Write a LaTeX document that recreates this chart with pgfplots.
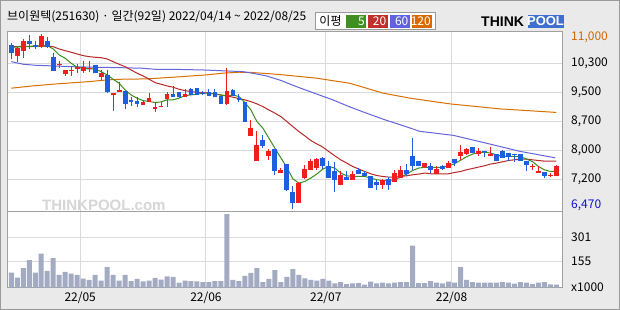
\documentclass[border=0pt]{standalone}
\usepackage{pgfplots}
\pgfplotsset{compat=1.18}
\usepackage{pgfplotstable}
\usepackage{fontspec}
\setmainfont{Noto Sans CJK KR}
\newfontfamily\logofont{Liberation Sans}

\definecolor{bgc}{HTML}{EAEAEA}
\definecolor{outerc}{HTML}{9A9A9A}
\definecolor{panelc}{HTML}{A0A0A0}
\definecolor{gridc}{HTML}{DADADA}
\definecolor{upc}{HTML}{F01E1E}
\definecolor{downc}{HTML}{1E5FE0}
\definecolor{maA}{HTML}{3C8C1C}
\definecolor{maB}{HTML}{B82828}
\definecolor{maC}{HTML}{6464DC}
\definecolor{maD}{HTML}{D87000}
\definecolor{lgA}{HTML}{3F8F22}
\definecolor{lgB}{HTML}{C0302C}
\definecolor{lgC}{HTML}{6060E0}
\definecolor{lgD}{HTML}{D86A00}
\definecolor{volc}{HTML}{A3ABC2}
\definecolor{maxc}{HTML}{D06800}
\definecolor{minc}{HTML}{1010D0}
\definecolor{logob}{HTML}{3F6FCF}
\definecolor{wmc}{HTML}{D6D6D6}

\pgfplotstableread{
i O H L C
1 10440 10670 10290 10630
2 10550 10870 10390 10820
5 10660 11000 10630 10950
8 10190 10300 10130 10220
9 9970 10070 9920 10070
10 10050 10180 9920 10070
11 10100 10230 10000 10150
12 10050 10300 10000 10150
13 10100 10300 10030 10130
15 9900 10070 9810 9980
17 9410 9480 9020 9480
18 9490 9770 9490 9550
22 9150 9300 9150 9230
23 9240 9470 9240 9350
24 9070 9230 8970 9110
25 9100 9250 9100 9140
26 9330 9490 9120 9460
29 9380 9570 9380 9460
36 9200 10120 9170 9530
40 8350 8780 8350 8560
41 7720 8490 7720 8130
43 7830 8030 7740 7980
45 7410 7530 7400 7480
48 6620 7170 6620 7150
49 7270 7610 7240 7500
50 7470 7760 7470 7700
51 7530 7800 7480 7770
55 7080 7440 7080 7360
57 7230 7440 7230 7380
62 7080 7240 6980 7210
64 7160 7470 7160 7410
65 7270 7570 7270 7470
69 7550 7670 7520 7670
71 7380 7570 7380 7500
73 7520 7700 7520 7670
75 7850 8130 7740 7950
76 7900 8060 7870 8020
78 7900 8040 7850 7970
80 7830 8070 7830 7900
87 7550 7640 7480 7570
88 7390 7570 7390 7440
90 7310 7400 7290 7360
91 7310 7610 7310 7580
}\tabUp

\pgfplotstableread{
i O H L C
0 10720 10760 10350 10500
3 10820 10980 10610 10750
4 10730 10820 10610 10670
6 10820 10930 10630 10660
7 10400 10500 10050 10050
14 10200 10200 9980 9980
16 9940 10070 9470 9490
19 9530 9530 9070 9190
20 9300 9380 9140 9240
21 9270 9380 9120 9200
27 9460 9660 9380 9380
28 9500 9500 9350 9380
30 9580 9610 9420 9420
31 9610 9610 9420 9420
32 9480 9530 9420 9450
33 9500 9570 9400 9400
34 9500 9570 9370 9370
35 9400 9400 9200 9200
37 9540 9570 9400 9400
38 9350 9450 9250 9280
39 9230 9230 8730 8730
42 8260 8380 8060 8100
44 8030 8030 7350 7440
46 7640 7640 6940 6970
47 6910 7070 6470 6620
52 7790 7810 7500 7570
53 7590 7720 7270 7270
54 7460 7680 6900 7210
56 7290 7440 7210 7230
58 7470 7530 7380 7380
59 7410 7440 7310 7330
60 7330 7330 7000 7020
61 7160 7230 6950 7100
63 7250 7290 6970 7080
66 7470 7640 7310 7370
67 7850 8320 7480 7570
68 7720 7720 7570 7590
70 7590 7660 7410 7470
72 7590 7600 7480 7510
74 7770 7770 7590 7660
77 8070 8070 7920 7920
79 7970 7970 7810 7940
81 7900 7900 7700 7720
82 7970 7990 7790 7790
83 7920 7920 7720 7810
84 7900 7900 7690 7860
85 7880 7900 7700 7700
86 7720 7720 7440 7620
89 7430 7430 7260 7310
}\tabDown

\pgfplotstableread{
i v
0 10659
1 10667
2 10674
3 10674
4 10674
5 10705
6 10705
7 10615
8 10460
9 10374
10 10245
11 10141
12 10115
13 10097
14 10097
15 10027
16 9942
17 9831
18 9727
19 9554
20 9424
21 9339
22 9277
23 9256
24 9225
25 9243
26 9295
27 9295
28 9339
29 9406
30 9424
31 9443
32 9468
33 9468
34 9450
35 9424
36 9399
37 9424
38 9380
39 9225
40 9036
41 8733
42 8563
43 8304
44 8045
45 7794
46 7548
47 7250
48 7139
49 7181
50 7269
51 7372
52 7502
53 7569
54 7527
55 7398
56 7328
57 7310
58 7310
59 7310
60 7269
61 7225
62 7207
63 7207
64 7225
65 7294
66 7372
67 7465
68 7527
69 7548
70 7543
71 7543
72 7553
73 7587
74 7640
75 7730
76 7820
77 7890
78 7925
79 7941
80 7916
81 7872
82 7828
83 7828
84 7828
85 7828
86 7760
87 7698
88 7569
89 7483
90 7439
91 7439
}\tabMAfive

\pgfplotstableread{
i v
0 10674
3 10685
6 10693
7 10674
8 10615
9 10571
10 10530
11 10486
12 10442
13 10416
14 10400
15 10390
16 10356
17 10286
18 10219
19 10157
20 10071
21 9986
22 9916
23 9831
24 9743
25 9701
26 9657
27 9624
28 9572
29 9536
30 9510
31 9494
32 9484
33 9468
34 9450
35 9417
36 9399
37 9365
38 9329
39 9295
40 9251
41 9192
42 9122
43 9036
44 8951
45 8863
46 8734
47 8604
48 8475
49 8363
50 8242
51 8156
52 8071
53 7957
54 7846
55 7742
56 7657
57 7569
58 7502
59 7439
60 7380
61 7336
62 7310
63 7294
64 7294
65 7310
66 7328
67 7354
68 7372
69 7398
70 7380
71 7380
72 7380
73 7380
74 7413
75 7439
76 7483
77 7517
78 7553
79 7587
80 7631
81 7657
82 7690
83 7724
84 7742
85 7760
86 7760
87 7742
88 7724
89 7708
90 7708
91 7708
}\tabMAtwenty

\pgfplotstableread{
i v
0 10286
2 10219
4 10193
7 10175
10 10157
14 10141
18 10131
22 10115
24 10089
28 10084
32 10071
36 10045
38.7 10027
40 9994
42.6 9916
45 9800
47.6 9639
50 9502
53.7 9295
56.5 9114
59.3 8951
62.4 8777
65 8648
68.2 8480
73.8 8376
79.4 8169
84.9 7962
90.8 7794
}\tabMAsixty

\pgfplotstableread{
i v
0 9598
3.5 9657
7.5 9709
13 9769
16 9813
18.5 9831
22.5 9839
27 9883
32.5 9942
35.5 9990
38 10012
40 10007
43.5 9968
45.5 9942
51 9857
56.5 9727
62.1 9469
66.6 9339
73.2 9192
81.6 9062
91 8970
}\tabMAonetwenty

\pgfplotstableread{
i v
0 90
1 60
2 117
3 165
4 90
5 203
6 100
7 177
8 76
9 94
10 84
11 76
12 54
13 46
14 76
15 42
16 123
17 76
18 42
19 76
20 40
21 52
22 38
23 42
24 58
25 48
26 68
27 64
28 30
29 42
30 40
31 38
32 34
33 34
34 40
35 40
36 440
37 46
38 40
39 70
40 88
41 117
42 34
43 52
44 105
45 34
46 64
47 111
48 76
49 56
50 46
51 42
52 52
53 42
54 26
55 34
56 22
57 26
58 28
59 18
60 36
61 26
62 30
63 26
64 30
65 34
66 34
67 251
68 28
69 28
70 40
71 30
72 26
73 36
74 30
75 123
76 46
77 34
78 30
79 30
80 30
81 30
82 34
83 30
84 24
85 34
86 30
87 22
88 30
89 34
90 20
91 18
}\tabVol

\pgfplotsset{
  panel/.style={
    scale only axis, width=554pt,
    xmin=-0.55, xmax=91.94,
    scaled x ticks=false, scaled y ticks=false,
    axis line style={draw=panelc, line width=1pt},
    tick style={draw=none},
    xtick={11.5,32.5,52.5,73.5},
    xmajorgrids, ymajorgrids,
    major grid style={draw=gridc, line width=1pt},
    yticklabel pos=right,
    yticklabel style={anchor=west, inner sep=0pt},
    yticklabel shift=9pt,
    ticklabel style={font=\fontsize{12}{12}\selectfont},
  },
  candle/.style 2 args={draw=none, mark=none, forget plot,
    error bars/.cd, y dir=plus, y explicit, error mark=none,
    error bar style={draw=#1, line width=#2}},
}

\begin{document}
\begin{tikzpicture}
\begin{scope}[x=1pt,y=1pt]
\path[use as bounding box] (0,0) rectangle (620,310);
\fill[bgc] (0,0) rectangle (620,310);
\draw[outerc, line width=1pt] (0.5,0.5) rectangle (619.5,309.5);
\fill[white] (8,22.3) rectangle (562,278.3);
\node[anchor=west, inner sep=0pt, text=wmc, font=\logofont\bfseries\fontsize{15}{15}\selectfont] at (42,105) {THINKPOOL.com};
% title
\node[anchor=west, inner sep=0pt, font=\fontsize{12}{12}\selectfont] at (7,293) {브이원텍(251630) · 일간(92일) 2022/04/14 \textasciitilde{} 2022/08/25};
% MA legend
\draw[draw=outerc, fill=white, line width=1pt] (315.5,280) rectangle (435,297.7);
\node[font=\fontsize{12}{12}\selectfont, inner sep=0pt] at (330.5,289) {이평};
\fill[lgA] (346,282.3) rectangle (366,295);
\fill[lgB] (368,282.3) rectangle (387.5,295);
\fill[lgC] (389.5,282.3) rectangle (409.6,295);
\fill[lgD] (411.6,282.3) rectangle (432,295);
\node[anchor=east, text=white, inner sep=0pt, font=\fontsize{12}{12}\selectfont] at (365,288.6) {5};
\node[anchor=east, text=white, inner sep=0pt, font=\fontsize{12}{12}\selectfont] at (386.5,288.6) {20};
\node[anchor=east, text=white, inner sep=0pt, font=\fontsize{12}{12}\selectfont] at (408.6,288.6) {60};
\node[anchor=east, text=white, inner sep=0pt, font=\fontsize{12}{12}\selectfont] at (431,288.6) {120};
% logo
\node[anchor=west, inner sep=0pt, font=\logofont\bfseries\fontsize{14}{14}\selectfont] at (481,288.5) {THINK};
\fill[logob] (527.5,282) rectangle (563.5,295);
\node[text=white, inner sep=0pt, font=\logofont\bfseries\fontsize{13}{13}\selectfont] at (545.5,288.5) {POOL};
\end{scope}

% price panel
\begin{axis}[panel,
  at={(8pt,98pt)}, anchor=south west, height=180.3pt,
  ymin=6389, ymax=11063,
  ytick={7225,7980,8735,9490,10245},
  yticklabels={{7,200},{8,000},{8,700},{9,500},{10,300}},
  extra y ticks={6560,10920},
  extra y tick labels={{\textcolor{minc}{6,470}},{\textcolor{maxc}{11,000}}},
  extra y tick style={grid=none},
  xticklabels={\empty,\empty,\empty,\empty},
]
\addplot[maD, line width=1pt, mark=none] table[x=i,y=v] {\tabMAonetwenty};
\addplot[maC, line width=1pt, mark=none] table[x=i,y=v] {\tabMAsixty};
\addplot[maB, line width=1pt, mark=none] table[x=i,y=v] {\tabMAtwenty};
\addplot[maA, line width=1pt, mark=none] table[x=i,y=v] {\tabMAfive};
% wicks
\addplot[candle={upc}{1pt}]
  table[x=i, y=L, y error plus expr=\thisrow{H}-\thisrow{L}] {\tabUp};
\addplot[candle={downc}{1pt}]
  table[x=i, y=L, y error plus expr=\thisrow{H}-\thisrow{L}] {\tabDown};
% bodies
\addplot[candle={upc}{4.8pt}]
  table[x=i, y=O, y error plus expr=\thisrow{C}-\thisrow{O}] {\tabUp};
\addplot[candle={downc}{4.8pt}]
  table[x=i, y=C, y error plus expr=\thisrow{O}-\thisrow{C}] {\tabDown};
\end{axis}

% volume panel
\begin{axis}[panel,
  at={(8pt,22.3pt)}, anchor=south west, height=75.7pt,
  ymin=0, ymax=452,
  ytick={0,155,301},
  yticklabels={x1000,155,301},
  xticklabels={22/05,22/06,22/07,22/08},
  xticklabel style={anchor=north, inner sep=0pt},
  xticklabel shift=4pt,
]
\addplot[ybar, bar width=5pt, fill=volc, draw=none] table[x=i,y=v] {\tabVol};
\end{axis}
\end{tikzpicture}
\end{document}
